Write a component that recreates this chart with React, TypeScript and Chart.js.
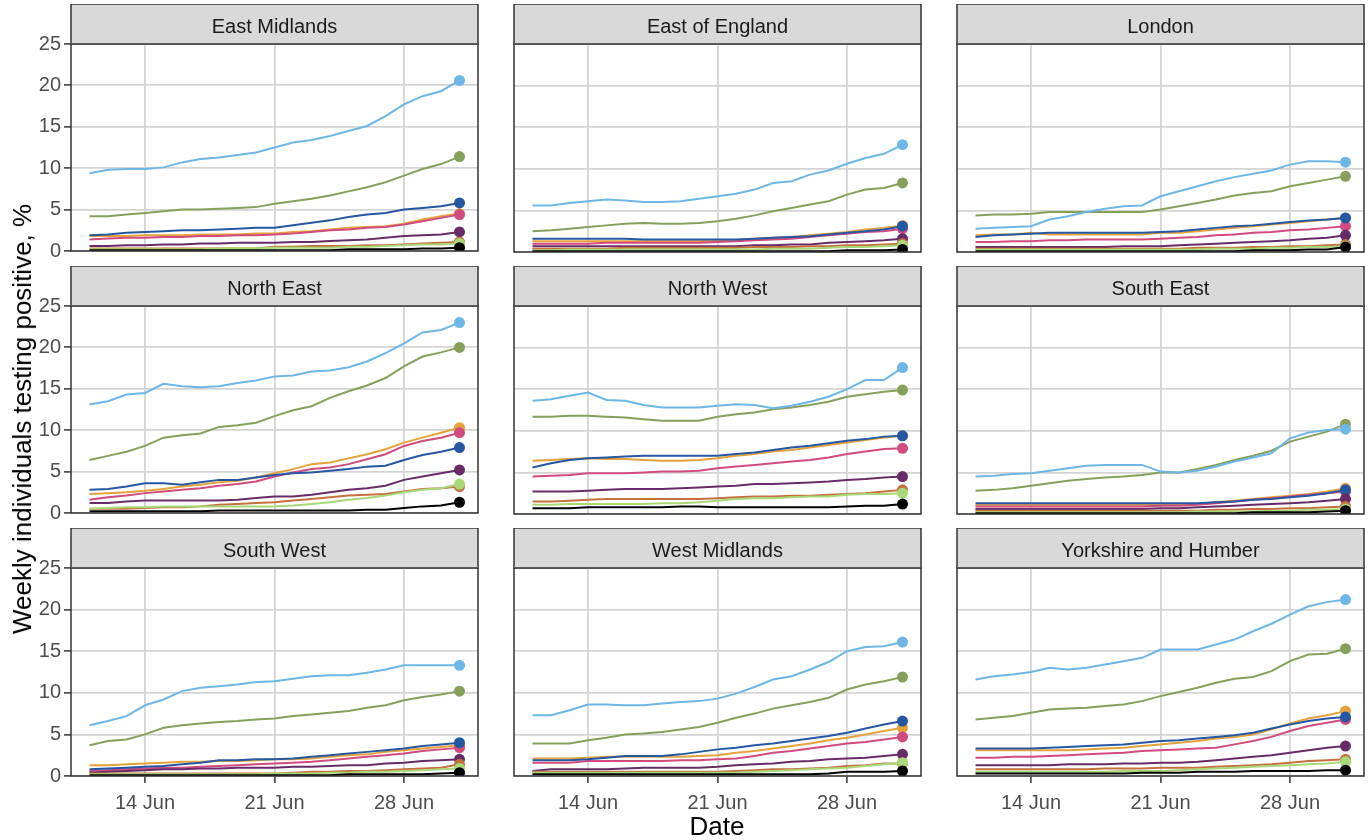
import React, { useEffect, useRef } from "react";
import { Chart, registerables } from "chart.js";

Chart.register(...registerables);

const FONT = "'Liberation Sans', Arial, Helvetica, sans-serif";
Chart.defaults.font.family = FONT;

// ---- data -------------------------------------------------------------
const regions = [
  "East Midlands", "East of England", "London",
  "North East", "North West", "South East",
  "South West", "West Midlands", "Yorkshire and Humber",
];

const dates = [
  "11 Jun", "12 Jun", "13 Jun", "14 Jun", "15 Jun", "16 Jun", "17 Jun",
  "18 Jun", "19 Jun", "20 Jun", "21 Jun", "22 Jun", "23 Jun", "24 Jun",
  "25 Jun", "26 Jun", "27 Jun", "28 Jun", "29 Jun", "30 Jun", "1 Jul",
];
const xTickDates = ["14 Jun", "21 Jun", "28 Jun"];
const yTicks = [0, 5, 10, 15, 20, 25];

// series order inside every region array
const seriesNames = [
  "light blue", "olive", "dark blue", "orange", "pink",
  "purple", "rust", "light green", "black",
];
const seriesColors = [
  "#6DB6E6", "#86A05C", "#2657A3", "#E5A23A", "#D14B7E",
  "#672C67", "#C4703F", "#A9D878", "#000000",
];
// drawing order (first drawn -> last drawn)
const drawOrder = ["olive", "light blue", "orange", "pink", "dark blue", "purple", "rust", "light green", "black"];

const eastMidlands = [
  [9.4, 9.8, 9.9, 9.9, 10.1, 10.7, 11.1, 11.3, 11.6, 11.9, 12.5, 13.1, 13.4, 13.9, 14.5, 15.1, 16.3, 17.7, 18.7, 19.3, 20.6],
  [4.2, 4.2, 4.4, 4.6, 4.8, 5.0, 5.0, 5.1, 5.2, 5.3, 5.7, 6.0, 6.3, 6.7, 7.2, 7.7, 8.3, 9.1, 9.9, 10.5, 11.4],
  [1.9, 2.0, 2.2, 2.3, 2.4, 2.5, 2.5, 2.6, 2.7, 2.8, 2.8, 3.1, 3.4, 3.7, 4.1, 4.4, 4.6, 5.0, 5.2, 5.4, 5.8],
  [1.8, 1.8, 1.8, 1.9, 1.9, 1.9, 2.0, 2.0, 2.0, 2.1, 2.1, 2.3, 2.4, 2.6, 2.8, 2.9, 3.0, 3.3, 3.8, 4.2, 4.5],
  [1.4, 1.5, 1.6, 1.6, 1.7, 1.7, 1.8, 1.8, 1.9, 1.9, 2.0, 2.1, 2.3, 2.5, 2.6, 2.8, 2.9, 3.2, 3.6, 4.0, 4.4],
  [0.6, 0.6, 0.7, 0.7, 0.8, 0.8, 0.9, 0.9, 1.0, 1.0, 1.0, 1.1, 1.1, 1.2, 1.3, 1.4, 1.6, 1.8, 1.9, 2.0, 2.3],
  [0.3, 0.3, 0.3, 0.3, 0.3, 0.3, 0.3, 0.3, 0.3, 0.3, 0.5, 0.5, 0.6, 0.6, 0.6, 0.7, 0.7, 0.8, 0.9, 1.0, 1.1],
  [0.2, 0.2, 0.2, 0.2, 0.2, 0.2, 0.2, 0.3, 0.3, 0.3, 0.4, 0.4, 0.4, 0.4, 0.5, 0.5, 0.6, 0.7, 0.8, 0.8, 0.9],
  [0.1, 0.1, 0.1, 0.1, 0.1, 0.1, 0.1, 0.1, 0.1, 0.1, 0.1, 0.1, 0.1, 0.1, 0.2, 0.2, 0.2, 0.2, 0.3, 0.3, 0.4],
];

const eastOfEngland = [
  [5.6, 5.6, 5.9, 6.1, 6.3, 6.2, 6.0, 6.0, 6.1, 6.4, 6.7, 7.0, 7.5, 8.3, 8.5, 9.3, 9.8, 10.6, 11.3, 11.8, 12.9],
  [2.5, 2.6, 2.8, 3.0, 3.2, 3.4, 3.5, 3.4, 3.4, 3.5, 3.7, 4.0, 4.4, 4.9, 5.3, 5.7, 6.1, 6.9, 7.5, 7.7, 8.3],
  [1.6, 1.6, 1.6, 1.6, 1.6, 1.6, 1.5, 1.5, 1.5, 1.5, 1.5, 1.5, 1.6, 1.7, 1.8, 1.9, 2.1, 2.3, 2.5, 2.7, 3.1],
  [1.3, 1.3, 1.3, 1.3, 1.3, 1.3, 1.3, 1.3, 1.3, 1.3, 1.4, 1.4, 1.6, 1.7, 1.8, 2.0, 2.2, 2.4, 2.7, 2.9, 3.2],
  [1.0, 1.0, 1.0, 1.0, 1.1, 1.1, 1.1, 1.1, 1.1, 1.1, 1.2, 1.3, 1.4, 1.5, 1.6, 1.8, 2.0, 2.2, 2.4, 2.5, 2.8],
  [0.7, 0.7, 0.7, 0.7, 0.7, 0.7, 0.7, 0.7, 0.7, 0.7, 0.7, 0.7, 0.8, 0.8, 0.9, 0.9, 1.1, 1.2, 1.3, 1.4, 1.6],
  [0.4, 0.4, 0.4, 0.4, 0.4, 0.5, 0.5, 0.5, 0.5, 0.5, 0.5, 0.5, 0.6, 0.6, 0.6, 0.7, 0.7, 0.8, 0.8, 0.9, 1.0],
  [0.2, 0.2, 0.3, 0.3, 0.3, 0.3, 0.3, 0.3, 0.3, 0.3, 0.3, 0.3, 0.3, 0.4, 0.4, 0.4, 0.5, 0.6, 0.6, 0.7, 0.8],
  [0.1, 0.1, 0.1, 0.1, 0.1, 0.1, 0.1, 0.1, 0.1, 0.1, 0.1, 0.1, 0.1, 0.1, 0.1, 0.1, 0.1, 0.2, 0.2, 0.2, 0.3],
];

const london = [
  [2.8, 2.9, 3.0, 3.1, 3.9, 4.3, 4.8, 5.2, 5.5, 5.6, 6.7, 7.3, 7.9, 8.5, 9.0, 9.4, 9.8, 10.5, 10.9, 10.9, 10.8],
  [4.4, 4.5, 4.5, 4.6, 4.8, 4.8, 4.8, 4.8, 4.8, 4.8, 5.1, 5.5, 5.9, 6.3, 6.8, 7.1, 7.3, 7.9, 8.3, 8.7, 9.1],
  [1.8, 2.0, 2.1, 2.2, 2.3, 2.3, 2.3, 2.3, 2.3, 2.3, 2.4, 2.5, 2.7, 2.9, 3.1, 3.2, 3.4, 3.6, 3.8, 3.9, 4.1],
  [2.0, 2.1, 2.1, 2.3, 2.1, 2.1, 2.1, 2.1, 2.1, 2.1, 2.3, 2.3, 2.5, 2.7, 2.9, 3.1, 3.3, 3.5, 3.7, 3.9, 4.1],
  [1.2, 1.2, 1.3, 1.3, 1.4, 1.4, 1.5, 1.5, 1.5, 1.5, 1.6, 1.7, 1.8, 2.0, 2.1, 2.3, 2.4, 2.6, 2.7, 2.9, 3.1],
  [0.6, 0.6, 0.6, 0.6, 0.6, 0.6, 0.6, 0.6, 0.7, 0.7, 0.7, 0.8, 0.9, 1.0, 1.1, 1.2, 1.3, 1.4, 1.6, 1.7, 2.0],
  [0.4, 0.4, 0.4, 0.4, 0.4, 0.4, 0.4, 0.4, 0.4, 0.4, 0.4, 0.4, 0.5, 0.5, 0.5, 0.6, 0.6, 0.7, 0.7, 0.8, 0.9],
  [0.3, 0.3, 0.3, 0.3, 0.3, 0.3, 0.3, 0.3, 0.3, 0.3, 0.3, 0.3, 0.3, 0.4, 0.4, 0.4, 0.5, 0.5, 0.6, 0.6, 0.7],
  [0.1, 0.1, 0.1, 0.1, 0.1, 0.1, 0.1, 0.1, 0.1, 0.1, 0.1, 0.1, 0.1, 0.1, 0.1, 0.2, 0.2, 0.2, 0.3, 0.3, 0.6],
];

const northEast = [
  [13.1, 13.5, 14.3, 14.5, 15.6, 15.3, 15.2, 15.3, 15.7, 16.0, 16.5, 16.6, 17.1, 17.2, 17.6, 18.3, 19.3, 20.5, 21.8, 22.1, 23.0],
  [6.4, 6.9, 7.4, 8.1, 9.1, 9.4, 9.6, 10.4, 10.6, 10.9, 11.7, 12.4, 12.9, 13.9, 14.7, 15.4, 16.3, 17.7, 18.9, 19.4, 20.0],
  [2.8, 2.9, 3.2, 3.6, 3.6, 3.4, 3.7, 4.0, 4.0, 4.3, 4.6, 4.8, 4.9, 5.1, 5.3, 5.6, 5.7, 6.4, 7.0, 7.4, 7.9],
  [2.3, 2.4, 2.5, 2.7, 2.9, 3.2, 3.4, 3.7, 3.9, 4.3, 4.8, 5.3, 5.9, 6.1, 6.6, 7.1, 7.7, 8.5, 9.1, 9.7, 10.3],
  [1.6, 1.9, 2.1, 2.4, 2.6, 2.8, 3.0, 3.3, 3.5, 3.8, 4.4, 4.9, 5.3, 5.5, 5.9, 6.5, 7.1, 8.1, 8.7, 9.1, 9.7],
  [1.2, 1.2, 1.4, 1.5, 1.5, 1.5, 1.5, 1.5, 1.6, 1.8, 2.0, 2.0, 2.2, 2.5, 2.8, 3.0, 3.3, 4.0, 4.4, 4.8, 5.2],
  [0.5, 0.5, 0.5, 0.6, 0.7, 0.7, 0.8, 1.0, 1.1, 1.2, 1.3, 1.5, 1.7, 1.9, 2.1, 2.2, 2.3, 2.6, 2.9, 3.0, 3.2],
  [0.5, 0.6, 0.7, 0.7, 0.8, 0.8, 0.8, 0.8, 0.8, 0.8, 0.8, 0.9, 1.1, 1.3, 1.6, 1.8, 2.1, 2.5, 2.8, 3.0, 3.5],
  [0.2, 0.2, 0.2, 0.2, 0.2, 0.2, 0.2, 0.3, 0.3, 0.3, 0.3, 0.3, 0.3, 0.3, 0.3, 0.4, 0.4, 0.6, 0.8, 0.9, 1.3],
];

const northWest = [
  [13.6, 13.8, 14.2, 14.6, 13.7, 13.6, 13.1, 12.8, 12.8, 12.8, 13.0, 13.2, 13.1, 12.7, 13.0, 13.5, 14.1, 15.0, 16.1, 16.1, 17.6],
  [11.7, 11.7, 11.8, 11.8, 11.7, 11.6, 11.4, 11.2, 11.2, 11.2, 11.7, 12.0, 12.2, 12.6, 12.8, 13.1, 13.5, 14.1, 14.4, 14.7, 14.9],
  [5.6, 6.1, 6.5, 6.7, 6.8, 6.9, 7.0, 7.0, 7.0, 7.0, 7.0, 7.2, 7.4, 7.7, 8.0, 8.2, 8.5, 8.8, 9.0, 9.3, 9.4],
  [6.4, 6.5, 6.6, 6.7, 6.6, 6.6, 6.5, 6.4, 6.4, 6.5, 6.7, 7.0, 7.2, 7.5, 7.7, 8.0, 8.3, 8.6, 8.9, 9.2, 9.4],
  [4.5, 4.6, 4.7, 4.9, 4.9, 4.9, 5.0, 5.1, 5.1, 5.2, 5.5, 5.7, 5.9, 6.1, 6.3, 6.5, 6.8, 7.2, 7.5, 7.8, 7.9],
  [2.7, 2.7, 2.7, 2.8, 2.9, 3.0, 3.0, 3.0, 3.1, 3.2, 3.3, 3.4, 3.6, 3.6, 3.7, 3.8, 3.9, 4.1, 4.2, 4.4, 4.5],
  [1.5, 1.5, 1.6, 1.7, 1.8, 1.8, 1.8, 1.8, 1.8, 1.8, 1.9, 2.0, 2.1, 2.1, 2.2, 2.2, 2.3, 2.4, 2.5, 2.7, 2.9],
  [1.1, 1.1, 1.2, 1.2, 1.2, 1.2, 1.2, 1.3, 1.3, 1.4, 1.6, 1.8, 1.9, 1.9, 2.0, 2.1, 2.1, 2.3, 2.4, 2.4, 2.5],
  [0.7, 0.7, 0.7, 0.8, 0.8, 0.8, 0.8, 0.8, 0.9, 0.9, 0.8, 0.8, 0.8, 0.8, 0.8, 0.8, 0.8, 0.9, 1.0, 1.0, 1.2],
];

const southEast = [
  [4.5, 4.6, 4.8, 4.9, 5.2, 5.5, 5.8, 5.9, 5.9, 5.9, 5.1, 5.0, 5.2, 5.7, 6.3, 6.8, 7.3, 9.1, 9.8, 10.1, 10.2],
  [2.8, 2.9, 3.1, 3.4, 3.7, 4.0, 4.2, 4.4, 4.5, 4.7, 5.0, 5.0, 5.4, 5.9, 6.5, 7.0, 7.6, 8.7, 9.3, 9.9, 10.8],
  [1.3, 1.3, 1.3, 1.3, 1.3, 1.3, 1.3, 1.3, 1.3, 1.3, 1.3, 1.3, 1.3, 1.4, 1.5, 1.7, 1.8, 2.0, 2.2, 2.5, 2.9],
  [1.1, 1.1, 1.1, 1.1, 1.1, 1.1, 1.1, 1.1, 1.1, 1.1, 1.1, 1.2, 1.2, 1.4, 1.6, 1.8, 2.0, 2.2, 2.4, 2.7, 3.1],
  [0.9, 0.9, 0.9, 0.9, 0.9, 0.9, 0.9, 0.9, 0.9, 0.9, 1.0, 1.0, 1.1, 1.3, 1.5, 1.7, 1.9, 2.1, 2.3, 2.5, 2.7],
  [0.6, 0.6, 0.6, 0.6, 0.6, 0.6, 0.6, 0.6, 0.6, 0.6, 0.7, 0.7, 0.8, 0.9, 1.0, 1.1, 1.2, 1.3, 1.4, 1.6, 1.8],
  [0.4, 0.4, 0.4, 0.4, 0.4, 0.4, 0.4, 0.4, 0.4, 0.4, 0.4, 0.4, 0.4, 0.5, 0.5, 0.6, 0.6, 0.7, 0.7, 0.8, 0.9],
  [0.2, 0.2, 0.2, 0.2, 0.2, 0.2, 0.2, 0.2, 0.2, 0.2, 0.2, 0.2, 0.3, 0.3, 0.3, 0.3, 0.4, 0.4, 0.5, 0.5, 0.6],
  [0.1, 0.1, 0.1, 0.1, 0.1, 0.1, 0.1, 0.1, 0.1, 0.1, 0.1, 0.1, 0.1, 0.1, 0.1, 0.2, 0.2, 0.2, 0.2, 0.3, 0.4],
];

const southWest = [
  [6.1, 6.6, 7.2, 8.5, 9.2, 10.2, 10.6, 10.8, 11.0, 11.3, 11.4, 11.7, 12.0, 12.1, 12.1, 12.4, 12.8, 13.3, 13.3, 13.3, 13.3],
  [3.7, 4.2, 4.4, 5.0, 5.8, 6.1, 6.3, 6.5, 6.6, 6.8, 6.9, 7.2, 7.4, 7.6, 7.8, 8.2, 8.5, 9.1, 9.5, 9.8, 10.2],
  [0.8, 0.9, 1.0, 1.1, 1.2, 1.4, 1.6, 1.9, 1.9, 2.0, 2.0, 2.1, 2.3, 2.5, 2.7, 2.9, 3.1, 3.3, 3.6, 3.8, 4.0],
  [1.3, 1.3, 1.4, 1.5, 1.6, 1.7, 1.7, 1.8, 1.8, 1.9, 2.0, 2.0, 2.1, 2.3, 2.5, 2.6, 2.9, 3.1, 3.3, 3.5, 3.7],
  [0.6, 0.7, 0.8, 0.9, 1.0, 1.0, 1.1, 1.2, 1.3, 1.4, 1.5, 1.6, 1.7, 1.9, 2.1, 2.3, 2.5, 2.7, 3.0, 3.2, 3.4],
  [0.4, 0.5, 0.6, 0.7, 0.8, 0.8, 0.9, 0.9, 1.0, 1.0, 1.0, 1.1, 1.1, 1.2, 1.3, 1.3, 1.5, 1.6, 1.8, 1.9, 2.0],
  [0.3, 0.3, 0.3, 0.3, 0.3, 0.3, 0.3, 0.3, 0.3, 0.3, 0.3, 0.4, 0.5, 0.5, 0.6, 0.6, 0.7, 0.8, 0.9, 1.0, 1.4],
  [0.2, 0.2, 0.2, 0.2, 0.2, 0.2, 0.2, 0.2, 0.2, 0.2, 0.3, 0.3, 0.3, 0.4, 0.4, 0.5, 0.5, 0.6, 0.7, 0.8, 0.9],
  [0.1, 0.1, 0.1, 0.1, 0.1, 0.1, 0.1, 0.1, 0.1, 0.1, 0.1, 0.1, 0.1, 0.1, 0.2, 0.2, 0.2, 0.2, 0.2, 0.3, 0.4],
];

const westMidlands = [
  [7.3, 7.3, 7.9, 8.6, 8.6, 8.5, 8.5, 8.7, 8.9, 9.0, 9.3, 9.9, 10.7, 11.6, 12.0, 12.8, 13.7, 15.0, 15.5, 15.6, 16.1],
  [3.9, 3.9, 3.9, 4.3, 4.6, 5.0, 5.1, 5.3, 5.6, 5.9, 6.4, 7.0, 7.5, 8.1, 8.5, 8.9, 9.4, 10.4, 11.0, 11.4, 11.9],
  [1.9, 1.9, 1.9, 2.0, 2.2, 2.4, 2.4, 2.4, 2.6, 2.9, 3.2, 3.4, 3.7, 3.9, 4.2, 4.5, 4.8, 5.2, 5.7, 6.2, 6.6],
  [2.1, 2.1, 2.1, 2.2, 2.3, 2.3, 2.3, 2.3, 2.3, 2.4, 2.5, 2.8, 3.0, 3.3, 3.6, 3.9, 4.3, 4.6, 5.0, 5.4, 5.8],
  [1.6, 1.6, 1.6, 1.8, 1.8, 1.8, 1.8, 1.8, 1.9, 1.9, 2.0, 2.1, 2.4, 2.8, 3.0, 3.3, 3.6, 3.9, 4.1, 4.4, 4.7],
  [0.6, 0.8, 0.8, 0.8, 0.8, 0.9, 1.0, 1.0, 1.0, 1.0, 1.1, 1.3, 1.4, 1.5, 1.7, 1.8, 2.0, 2.1, 2.2, 2.4, 2.6],
  [0.5, 0.5, 0.5, 0.5, 0.5, 0.5, 0.5, 0.5, 0.5, 0.5, 0.5, 0.6, 0.7, 0.8, 0.8, 0.9, 1.0, 1.2, 1.3, 1.5, 1.5],
  [0.4, 0.4, 0.4, 0.4, 0.4, 0.4, 0.4, 0.4, 0.4, 0.4, 0.4, 0.4, 0.5, 0.6, 0.7, 0.8, 0.9, 1.0, 1.2, 1.4, 1.6],
  [0.2, 0.2, 0.2, 0.2, 0.2, 0.2, 0.2, 0.2, 0.2, 0.2, 0.2, 0.2, 0.2, 0.2, 0.2, 0.2, 0.3, 0.5, 0.5, 0.5, 0.6],
];

const yorkshireHumber = [
  [11.6, 12.0, 12.2, 12.5, 13.0, 12.8, 13.0, 13.4, 13.8, 14.2, 15.2, 15.2, 15.2, 15.8, 16.4, 17.4, 18.3, 19.4, 20.4, 20.9, 21.2],
  [6.8, 7.0, 7.2, 7.6, 8.0, 8.1, 8.2, 8.4, 8.6, 9.0, 9.6, 10.1, 10.6, 11.2, 11.7, 11.9, 12.6, 13.8, 14.6, 14.7, 15.3],
  [3.3, 3.3, 3.3, 3.3, 3.4, 3.5, 3.6, 3.7, 3.8, 4.0, 4.2, 4.3, 4.5, 4.7, 4.9, 5.2, 5.7, 6.2, 6.6, 6.9, 7.1],
  [3.1, 3.1, 3.1, 3.1, 3.1, 3.1, 3.2, 3.3, 3.4, 3.6, 3.8, 4.0, 4.2, 4.5, 4.7, 5.0, 5.6, 6.3, 6.9, 7.3, 7.8],
  [2.2, 2.2, 2.3, 2.3, 2.4, 2.5, 2.6, 2.7, 2.8, 3.0, 3.1, 3.2, 3.3, 3.4, 3.8, 4.2, 4.7, 5.4, 6.0, 6.4, 6.8],
  [1.3, 1.3, 1.3, 1.3, 1.3, 1.4, 1.4, 1.4, 1.5, 1.5, 1.6, 1.6, 1.7, 1.9, 2.1, 2.3, 2.5, 2.8, 3.1, 3.4, 3.6],
  [0.8, 0.8, 0.8, 0.8, 0.8, 0.8, 0.8, 0.9, 0.9, 0.9, 1.0, 1.0, 1.0, 1.1, 1.2, 1.3, 1.4, 1.6, 1.8, 1.9, 2.0],
  [0.5, 0.5, 0.5, 0.5, 0.5, 0.5, 0.5, 0.5, 0.6, 0.6, 0.6, 0.7, 0.8, 0.9, 1.0, 1.1, 1.2, 1.3, 1.4, 1.5, 1.7],
  [0.3, 0.3, 0.3, 0.3, 0.3, 0.3, 0.3, 0.3, 0.3, 0.4, 0.4, 0.4, 0.5, 0.5, 0.5, 0.6, 0.6, 0.6, 0.6, 0.7, 0.7],
];

const regionValues = [
  eastMidlands, eastOfEngland, london,
  northEast, northWest, southEast,
  southWest, westMidlands, yorkshireHumber,
];

const yTitle = "Weekly individuals testing positive, %";
const xTitle = "Date";

// ---- layout -----------------------------------------------------------
const AXIS_W = 70;
const RIGHT_PAD = 3;
const STRIP_H = 40;
const PLOT_W = 407;
const PLOT_H = 208;
const colLeft = [71, 514, 957];
const rowTop = [4, 266, 528];

const GRID = "#D4D4D4";
const DARK = "#333333";
const TICK_TEXT = "#4D4D4D";

const framePlugin = {
  id: "frame",
  beforeDraw(chart: any) {
    const { ctx, chartArea: a } = chart;
    ctx.save();
    ctx.fillStyle = "#D9D9D9";
    ctx.fillRect(a.left, a.top - STRIP_H, a.right - a.left, STRIP_H);
    ctx.strokeStyle = DARK;
    ctx.lineWidth = 1.5;
    ctx.strokeRect(a.left, a.top - STRIP_H, a.right - a.left, STRIP_H);
    ctx.restore();
  },
  afterDraw(chart: any) {
    const { ctx, chartArea: a } = chart;
    ctx.save();
    ctx.strokeStyle = DARK;
    ctx.lineWidth = 1.5;
    ctx.strokeRect(a.left, a.top, a.right - a.left, a.bottom - a.top);
    ctx.restore();
  },
};

function Panel({ index }: { index: number }) {
  const ref = useRef<HTMLCanvasElement | null>(null);
  const col = index % 3;
  const row = Math.floor(index / 3);
  const showY = col === 0;
  const showX = row === 2;
  const bottom = showX ? 52 : 14;
  const w = AXIS_W + PLOT_W + RIGHT_PAD;
  const h = STRIP_H + PLOT_H + bottom;

  useEffect(() => {
    const values = regionValues[index];
    const last = dates.length - 1;
    const datasets = drawOrder
      .slice()
      .reverse()
      .map((name) => {
        const s = seriesNames.indexOf(name);
        const color = seriesColors[s];
        return {
          label: name,
          data: values[s].map((v, i) => ({ x: i, y: v })),
          borderColor: color,
          backgroundColor: color,
          borderWidth: 2,
          tension: 0,
          pointRadius: (c: any) => (c.dataIndex === last ? 5.5 : 0),
          pointHoverRadius: 0,
          pointBorderWidth: 0,
          pointBackgroundColor: color,
        };
      });

    const chart = new Chart(ref.current as HTMLCanvasElement, {
      type: "line",
      data: { datasets },
      options: {
        responsive: false,
        animation: false,
        devicePixelRatio: 1,
        events: [],
        layout: { padding: { left: 0, top: 0, right: RIGHT_PAD, bottom: 0 }, autoPadding: false },
        plugins: {
          legend: { display: false },
          tooltip: { enabled: false },
          title: {
            display: true,
            text: regions[index],
            fullSize: false,
            color: "#1A1A1A",
            font: { size: 20, weight: "normal", family: FONT },
            padding: { top: 11, bottom: 5 },
          },
        },
        scales: {
          x: {
            type: "linear",
            min: -1,
            max: dates.length,
            border: { display: false },
            afterBuildTicks: (s: any) => {
              s.ticks = xTickDates.map((d) => ({ value: dates.indexOf(d) }));
            },
            afterFit: (s: any) => {
              s.height = bottom;
            },
            grid: {
              color: GRID,
              lineWidth: 1.8,
              drawTicks: showX,
              tickLength: 7,
              tickColor: DARK,
              tickWidth: 1.5,
            },
            ticks: {
              display: showX,
              autoSkip: false,
              maxRotation: 0,
              color: TICK_TEXT,
              font: { size: 20, family: FONT },
              padding: 8,
              callback: (v: any) => dates[v as number],
            },
          },
          y: {
            type: "linear",
            min: 0,
            max: 25,
            border: { display: false },
            afterBuildTicks: (s: any) => {
              s.ticks = yTicks.map((v) => ({ value: v }));
            },
            afterFit: (s: any) => {
              s.width = AXIS_W;
            },
            grid: {
              color: GRID,
              lineWidth: 1.8,
              drawTicks: showY,
              tickLength: 7,
              tickColor: DARK,
              tickWidth: 1.5,
            },
            ticks: {
              display: showY,
              color: TICK_TEXT,
              font: { size: 20, family: FONT },
              padding: 3,
            },
          },
        },
      },
      plugins: [framePlugin],
    } as any);
    return () => chart.destroy();
  }, [index]);

  return (
    <canvas
      ref={ref}
      width={w}
      height={h}
      style={{
        position: "absolute",
        left: colLeft[col] - AXIS_W,
        top: rowTop[row],
        width: w,
        height: h,
      }}
    />
  );
}

export default function App() {
  return (
    <div
      style={{
        position: "fixed",
        left: 0,
        top: 0,
        width: 1371,
        height: 840,
        background: "#FFFFFF",
        overflow: "hidden",
        fontFamily: FONT,
      }}
    >
      {regions.map((_, i) => (
        <Panel key={i} index={i} />
      ))}
      <div
        style={{
          position: "absolute",
          left: 22,
          top: 419,
          transform: "translate(-50%, -50%) rotate(-90deg)",
          whiteSpace: "nowrap",
          fontSize: 26,
          color: "#000000",
          lineHeight: 1,
        }}
      >
        {yTitle}
      </div>
      <div
        style={{
          position: "absolute",
          left: 717,
          top: 826,
          transform: "translate(-50%, -50%)",
          whiteSpace: "nowrap",
          fontSize: 26,
          color: "#000000",
          lineHeight: 1,
        }}
      >
        {xTitle}
      </div>
    </div>
  );
}
